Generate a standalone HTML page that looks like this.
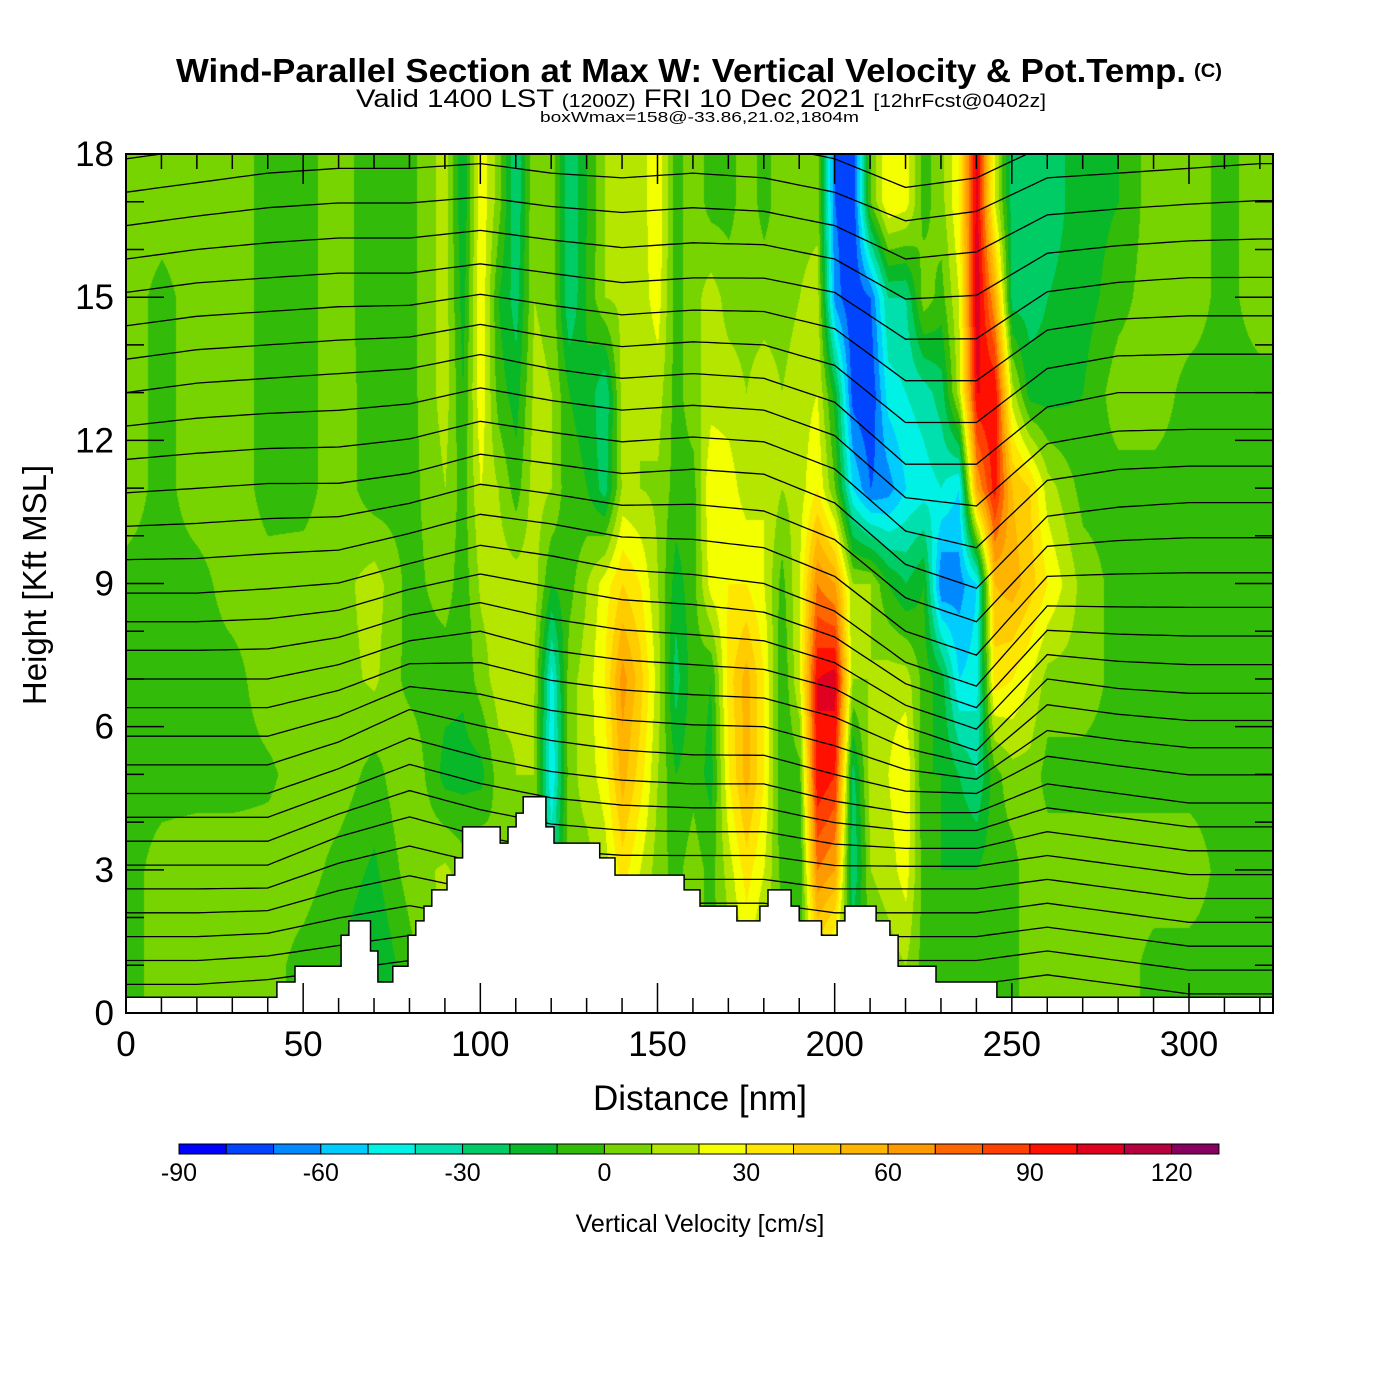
<!DOCTYPE html>
<html><head><meta charset="utf-8"><style>
html,body{margin:0;padding:0;background:#fff;width:1400px;height:1400px;overflow:hidden}
#heat{position:absolute;left:126px;top:154px}
#ov{position:absolute;left:0;top:0}
text{font-family:"Liberation Sans",Arial,sans-serif}
</style></head><body>
<canvas id="heat" width="1147" height="859"></canvas>
<svg id="ov" width="1400" height="1400">
<text x="176" y="82" font-size="33" font-weight="bold" textLength="1010" lengthAdjust="spacingAndGlyphs">Wind-Parallel Section at Max W: Vertical Velocity &amp; Pot.Temp.</text>
<text x="1194" y="77" font-size="19" font-weight="bold" textLength="28" lengthAdjust="spacingAndGlyphs">(C)</text>
<text x="356" y="107" font-size="25" textLength="690" lengthAdjust="spacingAndGlyphs">Valid 1400 LST <tspan font-size="18">(1200Z)</tspan> FRI 10 Dec 2021 <tspan font-size="18">[12hrFcst@0402z]</tspan></text>
<text x="540" y="122" font-size="15" textLength="319" lengthAdjust="spacingAndGlyphs">boxWmax=158@-33.86,21.02,1804m</text>
<g id="lines"></g>
<path id="terrain" fill="#fff" stroke="#000" stroke-width="1.5"/>
<g id="ticks"></g>
<rect x="126" y="154" width="1147" height="859" fill="none" stroke="#000" stroke-width="2"/>
<g id="xlab"></g>
<g id="ylab"></g>
<text x="700" y="1110" font-size="35" text-anchor="middle">Distance [nm]</text>
<text transform="translate(46,585) rotate(-90)" font-size="33" text-anchor="middle">Height [Kft MSL]</text>
<g id="cbar"></g>
<text x="700" y="1232" font-size="25" text-anchor="middle">Vertical Velocity [cm/s]</text>
</svg>
<script>
// ---- data ----
const distCols=[0,10,20,30,40,50,60,70,80,90,95,100,105,110,115,120,125,130,135,140,145,150,155,160,165,170,175,180,185,190,195,200,205,210,215,220,225,230,235,240,245,250,255,260,270,280,290,300,310,320];
const heightRows=[17,15,13,11,9,7,5,3,1];
const wCol0=[6,6,6,6,-4,-4,-4,-4,-6];
const wVals=[
[6,6,6,6,-4,-4,-4,-4,-6],
[6,-4,-4,-4,-4,-4,-4,4,6],
[6,6,6,6,-4,-4,-4,6,6],
[6,6,6,6,5,-4,-4,6,6],
[-4,-4,-4,-4,4,6,-2,5,4],
[-4,-4,-4,-4,5,6,5,5,-4],
[6,6,6,6,6,6,6,-4,-10],
[-8,-8,-6,-6,15,12,-4,-12,-20],
[-4,-4,-4,-4,-4,-4,10,5,-4],
[15,15,15,10,5,-6,-14,12,15],
[-20,-15,-10,-5,-6,-8,-14,5,5],
[28,30,28,20,12,5,-14,12,10],
[5,-10,-5,10,15,15,5,0,0],
[-30,-25,-15,-5,15,12,10,0,0],
[10,10,12,15,15,12,10,0,0],
[8,8,10,10,-10,-45,-50,-30,0],
[-30,-30,-10,-8,-4,6,6,6,6],
[-10,-8,-12,-10,10,15,15,6,0],
[10,10,-30,-25,25,30,25,15,5],
[12,12,15,12,40,65,55,35,10],
[15,15,10,10,30,45,35,20,5],
[28,25,15,8,10,15,10,5,0],
[-4,-4,-4,-4,-15,-25,-10,-4,-4],
[6,6,6,-4,-4,-4,-4,6,6],
[-4,15,15,30,25,-10,-14,-4,-4],
[-4,6,15,25,30,35,30,15,6],
[6,6,10,15,30,55,55,35,20],
[-4,6,15,20,20,30,30,20,6],
[6,6,10,10,-4,-10,-10,-4,6],
[6,10,15,15,20,20,-4,-10,-4],
[6,15,20,30,70,100,100,70,30],
[-70,-65,-15,0,60,105,90,60,10],
[-80,-80,-75,-50,10,10,-25,-30,-10],
[0,-70,-80,-70,10,10,15,10,0],
[30,-30,-45,-65,-10,15,20,15,5],
[25,-30,-40,-50,-20,15,30,25,10],
[-4,6,-35,-45,-10,-4,-10,-4,-4],
[6,-4,-25,-40,-70,-15,-10,-10,-4],
[30,20,15,-50,-65,-50,-20,-10,-4],
[105,110,100,60,-50,-45,-30,-10,-4],
[20,60,100,95,50,35,-4,-4,-4],
[-25,-25,15,50,55,30,6,-4,-4],
[-25,-25,-15,40,45,20,6,6,6],
[-25,-20,-15,15,30,6,-4,6,6],
[-15,-15,-10,-4,6,6,-4,6,6],
[-10,-4,6,-4,-4,-4,-4,6,6],
[6,6,6,-4,-4,-4,-4,6,-4],
[6,6,-4,-4,-4,-4,-4,6,-4],
[-4,-4,-4,-4,-4,-4,-4,-4,-4],
[6,6,-4,-4,-4,-4,-4,-4,-4]];
const terrX=[0,42.6,47.7,60.7,62.9,69.0,71.1,75.3,79.6,81.8,84.1,86.3,90.6,92.8,95.0,105.6,107.8,110.1,112.1,118.5,120.8,133.7,138.0,157.5,162.0,172.4,178.9,181.2,187.7,190.0,196.3,200.7,202.9,211.7,215.6,217.9,228.6,245.8];
const terrH=[0.33,0.65,0.98,1.63,1.93,1.3,0.65,0.98,1.63,1.93,2.24,2.58,2.89,3.25,3.9,3.56,3.9,4.19,4.53,3.9,3.56,3.25,2.89,2.58,2.24,1.93,2.24,2.58,2.24,1.93,1.63,1.93,2.24,1.93,1.63,0.98,0.65,0.33];
const dispCols=[0,20,40,60,80,100,120,140,160,180,200,220,240,260,280,300,320];
const dispRows=[17,15,13,11,9,7,5,3,1];
const dispVals=[
[0,.2,.4,.5,.5,.6,.4,.3,.4,.3,0,-.6,-.4,.3,.4,.5,.6],
[0,.2,.3,.4,.4,.6,.4,.2,.3,.3,0,-1,-1,0,.2,.3,.3],
[0,.2,.3,.4,.5,.8,.5,.3,.4,.3,-.2,-1.5,-1.5,-.3,0,0,0],
[0,.1,.2,.2,.4,.8,.6,.4,.5,.4,-.2,-1.5,-2,-.5,-.3,-.2,-.2],
[0,0,.1,.2,.6,1,.8,.5,.4,.2,-.4,-1.5,-2,-.3,-.3,-.3,-.3],
[0,0,0,.3,.8,1,.6,.4,.3,.2,-.2,-1,-1.5,0,-.2,-.3,-.3],
[0,0,0,.5,1.2,.8,.5,.3,.2,.2,-.2,-.5,-.5,.2,0,-.2,-.2],
[0,0,0,.6,1,.6,.3,.2,.2,.2,0,0,0,.2,0,-.2,-.2],
[0,0,.1,.3,.5,.3,.2,.2,.2,.2,0,0,0,.2,0,-.2,-.2]];
const lineBases=[0.6,1.1,1.6,2.1,2.6,3.1,3.6,4.1,4.6,5.2,5.8,6.4,7.0,7.6,8.2,8.8,9.5,10.2,10.9,11.6,12.3,13.0,13.7,14.4,15.1,15.8,16.5,17.2,17.9];
const binMin=-90, binStep=10;
const binColors=["#0000ff","#0044ff","#0088ff","#00ccff","#00f2e6","#00e0ae","#00cc66","#08b828","#33bb0a","#77d400","#b4e600","#f4ff00","#ffe600","#ffcc00","#ffb400","#ff9900","#ff6600","#ff4000","#ff1000","#e00020","#b80040","#880060"];
const cbarLabels=[-90,-60,-30,0,30,60,90,120];
const xTicks=[0,50,100,150,200,250,300];
const yTicks=[0,3,6,9,12,15,18];
// ---- scales ----
const X=nm=>126+nm*3.5433, Y=k=>1013-k*47.72;
const NS='http://www.w3.org/2000/svg';
function interp1(arr,v){ // returns [i,t]
  if(v<=arr[0])return[0,0]; const n=arr.length;
  if(v>=arr[n-1])return[n-2,1];
  for(let i=0;i<n-1;i++){if(v>=arr[i]&&v<=arr[i+1])return[i,(v-arr[i])/(arr[i+1]-arr[i])];}
  return[0,0];}
function interpRow(rows,z){ // rows descending
  if(z>=rows[0])return[0,0]; const n=rows.length; if(z<=rows[n-1])return[n-2,1];
  for(let j=0;j<n-1;j++){if(z<=rows[j]&&z>=rows[j+1])return[j,(rows[j]-z)/(rows[j]-rows[j+1])];}
  return[0,0];}
function field(cols,rows,vals,nm,z,colMajor){
  const[i,tx]=interp1(cols,nm),[j,ty]=interpRow(rows,z);
  const g=colMajor?(a,b)=>vals[a][b]:(a,b)=>vals[b][a];
  const a=g(i,j)*(1-tx)+g(i+1,j)*tx, b=g(i,j+1)*(1-tx)+g(i+1,j+1)*tx;
  return a*(1-ty)+b*ty;}
function hex(c){return[parseInt(c.substr(1,2),16),parseInt(c.substr(3,2),16),parseInt(c.substr(5,2),16)];}
const rgb=binColors.map(hex);
// heatmap
const cv=document.getElementById('heat'),ctx=cv.getContext('2d');
const W=1147,H=859,img=ctx.createImageData(W,H);
for(let px=0;px<W;px++){const nm=px/3.5433;
  for(let py=0;py<H;py++){const z=(859-py)/47.72;
    const v=field(distCols,heightRows,wVals,nm,z,true);
    let b=Math.floor((v-binMin)/binStep); b=Math.max(0,Math.min(rgb.length-1,b));
    const o=(py*W+px)*4,c=rgb[b]; img.data[o]=c[0];img.data[o+1]=c[1];img.data[o+2]=c[2];img.data[o+3]=255;}}
ctx.putImageData(img,0,0);
// isentropes
const lg=document.getElementById('lines');
lineBases.forEach((z0,k)=>{let pts=[];
  for(let nm=0;nm<=324;nm+=2){const z=z0+field(dispCols,dispRows,dispVals,nm,z0,false);
    if(z<=18.05)pts.push(X(Math.min(nm,323.7)).toFixed(1)+','+Y(z).toFixed(1));}
  const pl=document.createElementNS(NS,'polyline');
  pl.setAttribute('points',pts.join(' '));pl.setAttribute('fill','none');pl.setAttribute('stroke','#000');pl.setAttribute('stroke-width','1.3');
  pl.setAttribute('clip-path','url(#pc)');
  
  
  lg.appendChild(pl);});
const defs=document.createElementNS(NS,'defs');defs.innerHTML='<clipPath id="pc"><rect x="126" y="154" width="1147" height="859"/></clipPath>';
document.getElementById('ov').prepend(defs);
// terrain
let d='M'+X(0)+','+Y(0);
for(let i=0;i<terrX.length;i++){const x0=X(terrX[i]),x1=i<terrX.length-1?X(terrX[i+1]):1273;
  d+=' L'+x0.toFixed(1)+','+Y(terrH[i]).toFixed(1)+' L'+x1.toFixed(1)+','+Y(terrH[i]).toFixed(1);}
d+=' L1273,'+Y(0)+' Z';
document.getElementById('terrain').setAttribute('d',d);
// ticks
const tg=document.getElementById('ticks');let td='';
for(let nm=0;nm<=320;nm+=10){const x=X(nm),L=nm%50===0?30:15;td+=`M${x},1013v-${L}M${x},154v${L}`;}
for(let k=0;k<=18;k++){const y=Y(k),L=k%3===0?38:18;td+=`M126,${y}h${L}M1273,${y}h-${L}`;}
const tp=document.createElementNS(NS,'path');tp.setAttribute('d',td);tp.setAttribute('stroke','#000');tp.setAttribute('stroke-width','1.5');


tg.appendChild(tp);
const xl=document.getElementById('xlab');
xTicks.forEach(v=>{const t=document.createElementNS(NS,'text');t.setAttribute('x',X(v));t.setAttribute('y',1056);t.setAttribute('font-size','35');t.setAttribute('text-anchor','middle');t.textContent=v;
  
  
  xl.appendChild(t);});
const yl=document.getElementById('ylab');
yTicks.forEach(v=>{const t=document.createElementNS(NS,'text');t.setAttribute('x',114);t.setAttribute('y',Y(v)+12);t.setAttribute('font-size','35');t.setAttribute('text-anchor','end');t.textContent=v;
  
  
  yl.appendChild(t);});
// colorbar
const cb=document.getElementById('cbar'),bw=47.27;
binColors.forEach((c,i)=>{const r=document.createElementNS(NS,'rect');r.setAttribute('x',179+i*bw);r.setAttribute('y',1144);r.setAttribute('width',bw);r.setAttribute('height',10);r.setAttribute('fill',c);r.setAttribute('stroke','#000');r.setAttribute('stroke-width','1');
  
  
  cb.appendChild(r);});
cbarLabels.forEach(v=>{const t=document.createElementNS(NS,'text');t.setAttribute('x',179+(v-binMin)/binStep*bw);t.setAttribute('y',1181);t.setAttribute('font-size','25');t.setAttribute('text-anchor','middle');t.textContent=v;
  
  
  cb.appendChild(t);});
</script>
</body></html>
